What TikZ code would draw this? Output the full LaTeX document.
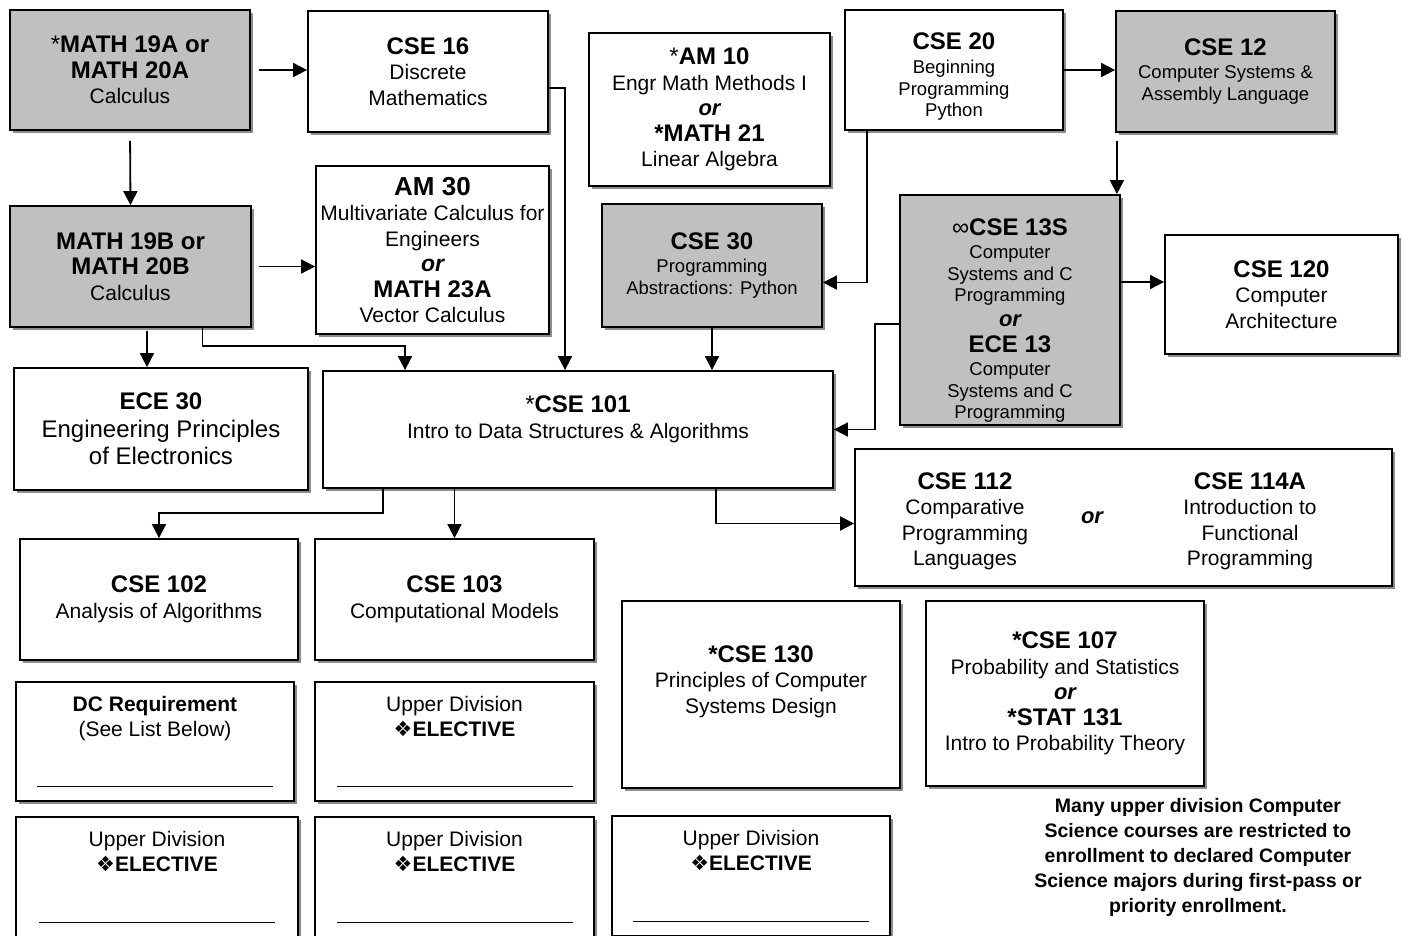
\documentclass[tikz,border=0pt]{standalone}
\usepackage{fontspec}
\setmainfont{Liberation Sans}
\newfontfamily\dingfont{DejaVu Sans}
\usetikzlibrary{arrows.meta,positioning,shadows}
\definecolor{CourseGray}{HTML}{C0C0C0}
\newcommand{\crsfont}{\fontsize{24}{25.5}\selectfont\bfseries}
\newcommand{\orfont}{\fontsize{22}{25.5}\selectfont\bfseries\itshape}
\newcommand{\elective}{{\dingfont\mdseries\fontsize{21}{20}\selectfont ❖}\textbf{ELECTIVE}}
\newcommand{\blankline}{\rule{236pt}{1.3pt}}

\begin{document}
\begin{tikzpicture}[x=1pt,y=-1pt,
      course/.style={draw,line width=1.8pt,fill=white,align=center,inner sep=2pt,
      font=\fontsize{21}{25.5}\selectfont,
      drop shadow={shadow xshift=2.5pt,shadow yshift=-2.5pt,fill=black!45,opacity=1}},
      core/.style={course,fill=CourseGray},
      smalltxt/.style={font=\fontsize{18.5}{21.5}\selectfont},
      txt/.style={align=center,inner sep=0pt,font=\fontsize{21}{25.5}\selectfont},
      arr/.style={-{Triangle[length=14pt,width=14pt]},line width=1.8pt}]
  \useasboundingbox (0,0) rectangle (1403,935);

  % first row
  \node[core,minimum width=240pt,minimum height=120pt] (m19a) at (130,70)
    {{\crsfont{\mdseries*}MATH 19A or}\\{\crsfont MATH 20A}\\Calculus};
  \node[course,minimum width=240pt,minimum height=121pt] (cse16) at (428,71.5)
    {{\crsfont CSE 16}\\Discrete\\Mathematics};
  \node[course,minimum width=241pt,minimum height=153pt] (am10) at (709.5,109.5)
    {{\crsfont{\mdseries*}AM 10}\\Engr Math Methods I\\{\orfont or}\\{\crsfont *MATH 21}\\Linear Algebra};
  \node[course,minimum width=218pt,minimum height=120pt] (cse20) at (954,70) {};
  \node[txt,smalltxt] (cse20t) at ([yshift=-7pt]cse20.center)
    {{\crsfont CSE 20}\\[2.5pt]Beginning\\Programming\\Python};
  \node[core,smalltxt,minimum width=219pt,minimum height=121pt] (cse12) at (1225.5,71.5)
    {{\crsfont CSE 12}\\[1.5pt]Computer Systems \&\\Assembly Language};

  % second row
  \node[core,minimum width=241pt,minimum height=121pt] (m19b) at (130.5,266.5)
    {{\crsfont MATH 19B or}\\{\crsfont MATH 20B}\\Calculus};
  \node[course,minimum width=233pt,minimum height=168pt] (am30) at (432.5,250)
    {{\fontsize{26}{25.5}\selectfont\bfseries AM 30}\\Multivariate Calculus for\\Engineers\\{\orfont\fontsize{23}{25.5}\selectfont or}\\{\crsfont MATH 23A}\\Vector Calculus};
  \node[core,smalltxt,minimum width=220pt,minimum height=123pt] (cse30) at (712,265.5)
    {{\crsfont CSE 30}\\[1.5pt]Programming\\Abstractions: Python};
  \node[core,minimum width=220pt,minimum height=230pt] (cse13s) at (1010,310) {};
  \node[txt,smalltxt] (cse13st) at ([yshift=-11pt]cse13s.center)
    {{\crsfont{\mdseries ∞}CSE 13S}\\[1.5pt]Computer\\Systems and C\\Programming\\[3.5pt]{\orfont or}\\[4.5pt]{\crsfont ECE 13}\\[1.5pt]Computer\\Systems and C\\Programming};
  \node[course,minimum width=233pt,minimum height=119pt] (cse120) at (1281.5,294.5)
    {{\crsfont CSE 120}\\Computer\\Architecture};

  % third row
  \node[course,minimum width=294pt,minimum height=122pt,font=\fontsize{24}{27.5}\selectfont] (ece30) at (161,429)
    {\textbf{ECE 30}\\Engineering Principles\\of Electronics};
  \node[course,minimum width=510pt,minimum height=117pt] (cse101) at (578,429.5) {};
  \node[txt] (cse101t) at ([yshift=10pt]cse101.center)
    {{\crsfont{\mdseries*}CSE 101}\\Intro to Data Structures \& Algorithms};
  \node[course,minimum width=537pt,minimum height=137pt] (cse112) at (1123.5,517.5) {};
  \node[txt] (or112) at ([xshift=-31.5pt]cse112.center) {\orfont or};
  \node[txt] (cse112t) at ([xshift=-158.5pt,yshift=-4pt]cse112.center)
    {{\crsfont CSE 112}\\Comparative\\Programming\\Languages};
  \node[txt] (cse114t) at ([xshift=126.5pt,yshift=-4pt]cse112.center)
    {{\crsfont CSE 114A}\\Introduction to\\Functional\\Programming};

  % upper division
  \node[course,minimum width=278pt,minimum height=121pt] (cse102) at (159,599.5)
    {{\crsfont CSE 102}\\Analysis of Algorithms};
  \node[course,minimum width=279pt,minimum height=121pt] (cse103) at (454.5,599.5)
    {{\crsfont CSE 103}\\Computational Models};
  \node[course,minimum width=278pt,minimum height=187pt] (cse130) at (761,694.5) {};
  \node[txt] (cse130t) at ([yshift=13pt]cse130.center)
    {{\crsfont *CSE 130}\\Principles of Computer\\Systems Design};
  \node[course,minimum width=278pt,minimum height=185pt] (cse107) at (1065,693.5)
    {{\crsfont *CSE 107}\\Probability and Statistics\\{\orfont or}\\{\crsfont *STAT 131}\\Intro to Probability Theory};

  % electives
  \node[course,minimum width=278pt,minimum height=119pt] (dc) at (155,741.5)
    {\textbf{DC Requirement}\\(See List Below)\\[25pt]\blankline};
  \node[course,minimum width=279pt,minimum height=119pt] (ud1) at (454.5,741.5)
    {Upper Division\\\elective\\[25pt]\blankline};
  \node[course,minimum width=282pt,minimum height=120pt] (ud2) at (157,877)
    {Upper Division\\\elective\\[26pt]\blankline};
  \node[course,minimum width=279pt,minimum height=120pt] (ud3) at (454.5,877)
    {Upper Division\\\elective\\[26pt]\blankline};
  \node[course,minimum width=278pt,minimum height=120pt] (ud4) at (751,876)
    {Upper Division\\\elective\\[26pt]\blankline};

  \node[txt,font=\fontsize{19.5}{25}\selectfont\bfseries] (note) at (1198,857)
    {Many upper division Computer\\Science courses are restricted to\\enrollment to declared Computer\\Science majors during first-pass or\\priority enrollment.};

  % prerequisite arrows
  \draw[arr,shorten <=8pt] (m19a.east) -- (m19a.east -| cse16.west);
  \draw[arr,shorten <=10pt] (m19a.south) -- (m19b.north);
  \draw[arr] ([yshift=-16.5pt]cse16.east) -| ([xshift=-13pt]cse101.north);
  \draw[arr] (cse20.east) -- (cse20.east -| cse12.west);
  \draw[arr] ([xshift=23pt]cse20.south west) |- ([yshift=-17pt]cse30.east);
  \draw[arr,shorten <=8pt] ([xshift=-4pt]cse13s.north east |- cse12.south) -- ([xshift=-4pt]cse13s.north east);
  \draw[arr,shorten <=7pt] (m19b.east) -- (m19b.east -| am30.west);
  \draw[arr,shorten <=3pt] ([xshift=-14pt]ece30.north |- m19b.south) -- ([xshift=-14pt]ece30.north);
  \draw[arr] ([xshift=72pt]m19b.south) -- ++(0,18) -| ([xshift=-173pt]cse101.north);
  \draw[arr] (cse30.south) -- (cse30.south |- cse101.north);
  \draw[arr] ([yshift=28pt]cse13s.east) -- ([yshift=28pt]cse13s.east -| cse120.west);
  \draw[arr] ([yshift=-14pt]cse13s.west) -- ++(-24,0) |- (cse101.east);
  \draw[arr] ([xshift=61pt]cse101.south west) -- ++(0,24) -| (cse102.north);
  \draw[arr] (cse101.south -| cse103.north) -- (cse103.north);
  \draw[arr] ([xshift=-118pt]cse101.south east) |- ([yshift=-6pt]cse112.west);
\end{tikzpicture}
\end{document}
